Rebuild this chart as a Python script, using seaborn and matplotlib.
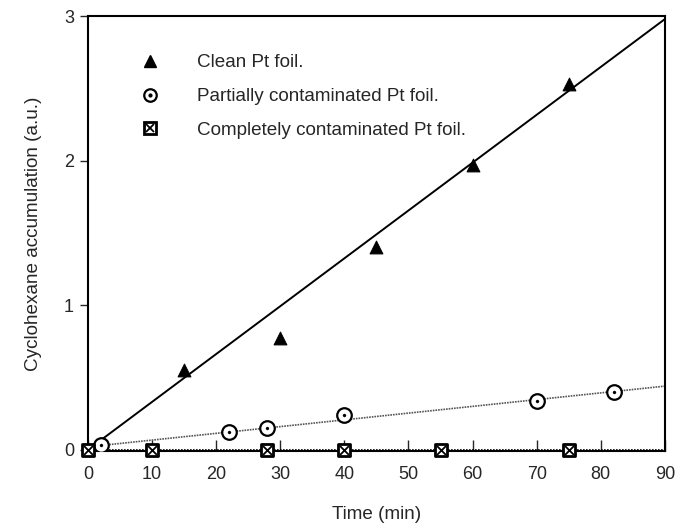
import numpy as np
import pandas as pd
import matplotlib
matplotlib.use('Agg')
import matplotlib.pyplot as plt
import seaborn as sns
from matplotlib.lines import Line2D
from matplotlib.legend_handler import HandlerTuple

# data
clean_t = [15, 30, 45, 60, 75]
clean_y = [0.55, 0.77, 1.40, 1.97, 2.53]

partial_t = [2, 22, 28, 40, 70, 82]
partial_y = [0.03, 0.12, 0.15, 0.24, 0.34, 0.40]

complete_t = [0, 10, 28, 40, 55, 75]
complete_y = [0.0, 0.0, 0.0, 0.0, 0.0, 0.0]

# fitted lines (end points)
fit_t = [0, 90]
clean_fit = [0.0, 2.98]
partial_fit = [0.02, 0.44]
complete_fit = [0.0, 0.0]

labels = ['Clean Pt foil.', 'Partially contaminated Pt foil.',
          'Completely contaminated Pt foil.']

sns.set_style('ticks')
plt.rcParams['font.family'] = ['Liberation Sans', 'DejaVu Sans']

fig = plt.figure(figsize=(6.77, 5.24), dpi=100)
ax = fig.add_axes([0.130, 0.139, 0.852, 0.830])

fits = pd.DataFrame({'t': fit_t * 3,
                     'y': clean_fit + partial_fit + complete_fit,
                     'series': ['c'] * 2 + ['p'] * 2 + ['x'] * 2})
sns.lineplot(data=fits[fits.series == 'c'], x='t', y='y', color='black', lw=1.4, ax=ax)
sns.lineplot(data=fits[fits.series == 'p'], x='t', y='y', color='#555555', lw=1.2,
             linestyle=(0, (1, 0.6)), ax=ax)
sns.lineplot(data=fits[fits.series == 'x'], x='t', y='y', color='black', lw=1.2,
             linestyle=(0, (1, 0.8)), ax=ax)

sns.scatterplot(x=clean_t, y=clean_y, marker='^', s=85, color='black',
                edgecolor='black', ax=ax, zorder=4)
sns.scatterplot(x=partial_t, y=partial_y, marker='o', s=110, color='white',
                edgecolor='black', linewidth=1.6, ax=ax, zorder=4)
sns.scatterplot(x=partial_t, y=partial_y, marker='o', s=5, color='black',
                edgecolor='black', ax=ax, zorder=5)
sns.scatterplot(x=complete_t, y=complete_y, marker='s', s=75, color='white',
                edgecolor='black', linewidth=2.0, ax=ax, zorder=4, clip_on=False)
sns.scatterplot(x=complete_t, y=complete_y, marker='x', s=40, color='black',
                linewidth=1.3, ax=ax, zorder=5, clip_on=False)

ax.set_xlim(0, 90)
ax.set_ylim(-0.01, 3.0)
ax.set_xticks(range(0, 91, 10))
ax.set_yticks([0, 1, 2, 3])
ax.tick_params(axis='x', direction='in', length=8, width=1, labelsize=13, pad=11)
ax.tick_params(axis='y', direction='out', length=6, width=1, labelsize=13, pad=4)
for sp in ax.spines.values():
    sp.set_visible(True)
    sp.set_linewidth(1.5)
    sp.set_color('black')
ax.set_xlabel('Time (min)', fontsize=13.6, labelpad=16)
ax.set_ylabel('Cyclohexane accumulation (a.u.)', fontsize=13.6, labelpad=16)

h1 = Line2D([], [], marker='^', ls='none', color='black', markersize=9)
h2 = (Line2D([], [], marker='o', ls='none', mfc='white', mec='black', mew=1.6, markersize=9),
      Line2D([], [], marker='o', ls='none', color='black', markersize=2))
h3 = (Line2D([], [], marker='s', ls='none', mfc='white', mec='black', mew=2.0, markersize=8),
      Line2D([], [], marker='x', ls='none', color='black', mew=1.3, markersize=6))
ax.legend([h1, h2, h3], labels, handler_map={tuple: HandlerTuple(ndivide=1, pad=0)},
          loc='upper left', bbox_to_anchor=(0.058, 0.952), frameon=False, fontsize=13.6,
          handlelength=1.2, handletextpad=1.9, labelspacing=0.88)

fig.savefig('out.png', dpi=100)
